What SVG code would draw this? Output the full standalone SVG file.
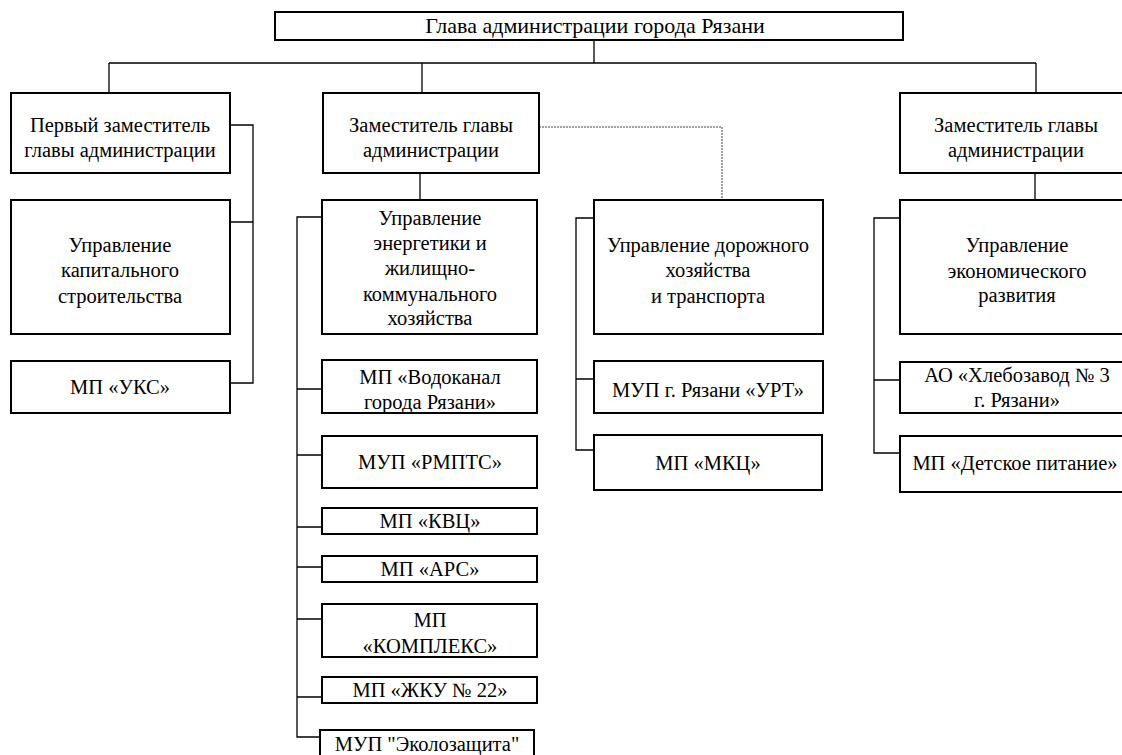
<svg xmlns="http://www.w3.org/2000/svg" width="1122" height="755" viewBox="0 0 1122 755">
<style>
.box{fill:#fff;stroke:#000;stroke-width:2}
.t{font-family:"Liberation Serif","DejaVu Serif",serif;font-size:20.5px;text-anchor:middle;fill:#000}
.h{font-size:22px}
.c{stroke:#000;stroke-width:1.3;fill:none}
.d{stroke:#444;stroke-width:1;fill:none;stroke-dasharray:2 1}
</style>
<rect width="1122" height="755" fill="#fff"/>
<g id="connectors">
<path class="c" d="M594,40V63M109,63H1036M109,63V93M422,63V93M1036,63V93"/>
<path class="c" d="M230,125H253V383H230M230,222H253"/>
<path class="c" d="M420,173V200"/>
<path class="d" d="M539,127H722V200"/>
<path class="c" d="M1035,173V200"/>
<path class="c" d="M322,217H297V737H322M297,389H322M297,455H322M297,527H322M297,567H322M297,619H322M297,697H322"/>
<path class="c" d="M594,218H576V450H594M576,379H594"/>
<path class="c" d="M900,218H874V453H900M874,380H900"/>
</g>
<g id="head"><rect class="box" x="275" y="12" width="628" height="28"/><text class="t h" x="595" y="33">Глава администрации города Рязани</text></g>
<g id="dep1"><rect class="box" x="11" y="93" width="219" height="80"/><text class="t" x="120" y="132">Первый заместитель</text><text class="t" x="120" y="157">главы администрации</text></g>
<g id="dep2"><rect class="box" x="323" y="93" width="216" height="80"/><text class="t" x="431" y="132">Заместитель главы</text><text class="t" x="431" y="157">администрации</text></g>
<g id="dep3"><rect class="box" x="900" y="93" width="234" height="80"/><text class="t" x="1016" y="132">Заместитель главы</text><text class="t" x="1016" y="157">администрации</text></g>
<g id="kap"><rect class="box" x="11" y="200" width="219" height="134"/><text class="t" x="120" y="252">Управление</text><text class="t" x="120" y="277">капитального</text><text class="t" x="120" y="303">строительства</text></g>
<g id="uks"><rect class="box" x="11" y="361" width="219" height="52"/><text class="t" x="120" y="394">МП «УКС»</text></g>
<g id="energy"><rect class="box" x="322" y="200" width="215" height="134"/><text class="t" x="430" y="225">Управление</text><text class="t" x="430" y="250">энергетики и</text><text class="t" x="430" y="275">жилищно-</text><text class="t" x="430" y="301">коммунального</text><text class="t" x="430" y="325">хозяйства</text></g>
<g id="vodokanal"><rect class="box" x="322" y="360" width="215" height="53"/><text class="t" x="430" y="384">МП «Водоканал</text><text class="t" x="430" y="409">города Рязани»</text></g>
<g id="rmpts"><rect class="box" x="322" y="436" width="215" height="52"/><text class="t" x="430" y="469">МУП «РМПТС»</text></g>
<g id="kvc"><rect class="box" x="322" y="508" width="215" height="26"/><text class="t" x="430" y="528">МП «КВЦ»</text></g>
<g id="ars"><rect class="box" x="322" y="556" width="215" height="26"/><text class="t" x="430" y="576">МП «АРС»</text></g>
<g id="kompleks"><rect class="box" x="322" y="604" width="215" height="53"/><text class="t" x="430" y="627">МП</text><text class="t" x="430" y="653">«КОМПЛЕКС»</text></g>
<g id="zhku"><rect class="box" x="322" y="677" width="215" height="26"/><text class="t" x="430" y="697">МП «ЖКУ № 22»</text></g>
<g id="eko"><rect class="box" x="320" y="730" width="214" height="30"/><text class="t" x="427" y="751">МУП "Эколозащита"</text></g>
<g id="road"><rect class="box" x="594" y="200" width="229" height="134"/><text class="t" x="708" y="252">Управление дорожного</text><text class="t" x="708" y="277">хозяйства</text><text class="t" x="708" y="303">и транспорта</text></g>
<g id="urt"><rect class="box" x="594" y="361" width="229" height="52"/><text class="t" x="708" y="397">МУП г. Рязани «УРТ»</text></g>
<g id="mkc"><rect class="box" x="594" y="435" width="228" height="55"/><text class="t" x="708" y="470">МП «МКЦ»</text></g>
<g id="econ"><rect class="box" x="900" y="200" width="234" height="134"/><text class="t" x="1017" y="252">Управление</text><text class="t" x="1017" y="278">экономического</text><text class="t" x="1017" y="302">развития</text></g>
<g id="ao"><rect class="box" x="900" y="362" width="234" height="51"/><text class="t" x="1017" y="382">АО «Хлебозавод № 3</text><text class="t" x="1017" y="407">г. Рязани»</text></g>
<g id="detskoe"><rect class="box" x="900" y="436" width="234" height="56"/><text class="t" x="1015" y="470">МП «Детское питание»</text></g>
</svg>
